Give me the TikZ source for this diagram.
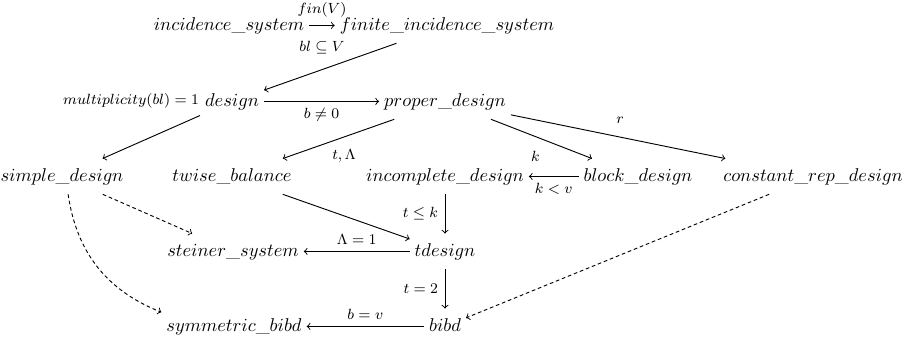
\documentclass[tikz,border=0pt]{standalone}
\usepackage{amsmath}
\usepackage{amssymb}

\begin{document}
\begin{tikzpicture}[x=0.019cm, y=-0.019cm, line width=0.5pt,
  cell/.style = {anchor=base, inner xsep=2.5pt, inner ysep=5pt, text height=1.6ex, text depth=0.45ex},
  lbl/.style = {font=\footnotesize, inner sep=3.5pt},
  imp/.style = {->},
  weak/.style = {->, dash pattern=on 2pt off 1.5pt},
  ]
  \useasboundingbox (0,0) rectangle (902,341);

  \node[cell] (inc) at (229,30) {$incidence\_system$};
  \node[cell] (fin) at (447,30) {$finite\_incidence\_system$};
  \node[cell] (design) at (232,106) {$design$};
  \node[cell] (proper) at (445,106) {$proper\_design$};
  \node[cell] (simple) at (62,181) {$simple\_design$};
  \node[cell] (twise) at (232,181) {$twise\_balance$};
  \node[cell] (incomplete) at (445,181) {$incomplete\_design$};
  \node[cell] (block) at (638,181) {$block\_design$};
  \node[cell] (constrep) at (813,181) {$constant\_rep\_design$};
  \node[cell] (steiner) at (233,256) {$steiner\_system$};
  \node[cell] (tdesign) at (445,256) {$tdesign$};
  \node[cell] (symbibd) at (234,331) {$symmetric\_bibd$};
  \node[cell] (bibd) at (445,331) {$bibd$};
  \node[lbl, anchor=base east] (mult) at (206,104) {$multiplicity(bl) = 1$};

  \draw[imp] (inc) -- node[lbl, above=0.5pt] {$fin(V)$} node[lbl, below=5pt] {$bl \subseteq V$} (fin);
  \draw[imp] (fin) -- (design);
  \draw[imp] (design) -- node[lbl, below] {$b \neq 0$} (proper);
  \draw[imp] (design) -- (simple);
  \draw[imp] (proper) -- node[lbl, pos=.45, below=3pt] {$t, \Lambda$} (twise);
  \draw[imp] (proper) -- node[lbl, pos=.44, below=4pt] {$k$} (block);
  \draw[imp] (proper) -- node[lbl, pos=.51, above=3.5pt] {$r$} (constrep);
  \draw[imp] (block) -- node[lbl, below] {$k < v$} (incomplete);
  \draw[imp] (incomplete) -- node[lbl, left] {$t \leq k$} (tdesign);
  \draw[imp] (twise) -- (tdesign);
  \draw[imp] (tdesign) -- node[lbl, above] {$\Lambda = 1$} (steiner);
  \draw[imp] (tdesign) -- node[lbl, left] {$t = 2$} (bibd);
  \draw[imp] (bibd) -- node[lbl, above] {$b = v$} (symbibd);
  \draw[weak] (simple) -- (steiner);
  \draw[weak] (simple) to[bend right=30] (symbibd);
  \draw[weak] (constrep) -- (bibd);
\end{tikzpicture}
\end{document}
